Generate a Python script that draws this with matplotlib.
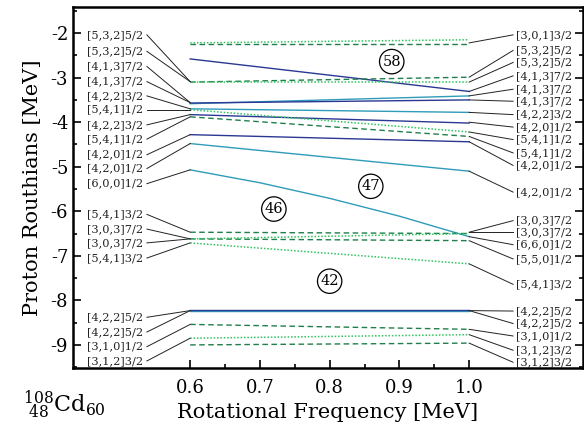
import matplotlib
matplotlib.use("Agg")
import matplotlib.pyplot as plt
from matplotlib.ticker import FixedLocator

plt.rcParams['font.family'] = ['DejaVu Serif']
plt.rcParams['mathtext.fontset'] = 'dejavuserif'
plt.rcParams['axes.unicode_minus'] = False

# ---------------- data ----------------
omega = [0.6, 1.0]
omega5 = [0.6, 0.7, 0.8, 0.9, 1.0]

teal_lines = [[-3.585, -3.41], [-3.70, -3.78], [-4.48, -5.10], [-8.23, -8.23]]
teal_curve = [-5.07, -5.36, -5.71, -6.11, -6.57]
blue_lines = [[-2.58, -3.31], [-3.57, -3.50], [-3.83, -4.02], [-4.28, -4.44], [-8.22, -8.22]]
dashed_lines = [[-2.24, -2.24], [-3.10, -2.99], [-3.88, -4.32], [-6.47, -6.50],
                [-6.62, -6.66], [-8.54, -8.65], [-9.00, -8.96]]
dotted_lines = [[-2.22, -2.15], [-3.10, -3.10], [-3.72, -4.22], [-6.62, -6.50],
                [-6.71, -7.18], [-8.85, -8.77]]

left_labels = ["[5,3,2]5/2", "[5,3,2]5/2", "[4,1,3]7/2", "[4,1,3]7/2", "[4,2,2]3/2",
               "[5,4,1]1/2", "[4,2,2]3/2", "[5,4,1]1/2", "[4,2,0]1/2", "[4,2,0]1/2",
               "[6,0,0]1/2", "[5,4,1]3/2", "[3,0,3]7/2", "[3,0,3]7/2", "[5,4,1]3/2",
               "[4,2,2]5/2", "[4,2,2]5/2", "[3,1,0]1/2", "[3,1,2]3/2"]
left_text_y = [-2.04, -2.41, -2.75, -3.09, -3.41, -3.72, -4.06, -4.38, -4.73, -5.04,
               -5.38, -6.07, -6.40, -6.71, -7.05, -8.38, -8.71, -9.04, -9.36]
left_target = [-3.09, -3.09, -3.56, -3.56, -3.70, -3.72, -3.83, -3.88, -4.28, -4.48,
               -5.07, -6.47, -6.62, -6.62, -6.71, -8.23, -8.23, -8.54, -8.85]

right_labels = ["[3,0,1]3/2", "[5,3,2]5/2", "[5,3,2]5/2", "[4,1,3]7/2", "[4,1,3]7/2",
                "[4,1,3]7/2", "[4,2,2]3/2", "[4,2,0]1/2", "[5,4,1]1/2", "[5,4,1]1/2",
                "[4,2,0]1/2", "[4,2,0]1/2", "[3,0,3]7/2", "[3,0,3]7/2", "[6,6,0]1/2",
                "[5,5,0]1/2", "[5,4,1]3/2", "[4,2,2]5/2", "[4,2,2]5/2", "[3,1,0]1/2",
                "[3,1,2]3/2", "[3,1,2]3/2"]
right_text_y = [-2.04, -2.39, -2.66, -2.96, -3.26, -3.53, -3.83, -4.11, -4.39, -4.69,
                -4.97, -5.57, -6.21, -6.47, -6.75, -7.07, -7.64, -8.24, -8.52, -8.80,
                -9.12, -9.39]
right_target = [-2.22, -2.99, -3.10, -3.31, -3.41, -3.50, -3.78, -4.00, -4.22, -4.32,
                -4.44, -5.10, -6.47, -6.47, -6.57, -6.66, -7.18, -8.23, -8.23, -8.65,
                -8.77, -8.96]

band_numbers = ["58", "47", "46", "42"]
band_x = [0.889, 0.859, 0.72, 0.80]
band_y = [-2.64, -5.44, -5.95, -7.57]

x_major = [0.6, 0.7, 0.8, 0.9, 1.0]
x_minor = [0.65, 0.75, 0.85, 0.95]

# ---------------- styles ----------------
TEAL = "#2f9cba"
BLUE = "#2a3894"
DGREEN = "#1f7f4a"
LGREEN = "#2fc45e"

fig = plt.figure(figsize=(5.84, 4.26), dpi=100)
ax = fig.add_axes([0.125, 0.136, 0.873, 0.848])

for ys in teal_lines:
    ax.plot(omega, ys, color=TEAL, lw=1.0)
ax.plot(omega5, teal_curve, color=TEAL, lw=1.0)
for ys in blue_lines:
    ax.plot(omega, ys, color=BLUE, lw=1.0)
for ys in dashed_lines:
    ax.plot(omega, ys, color=DGREEN, lw=1.0, ls=(0, (4, 2.5)))
for ys in dotted_lines:
    ax.plot(omega, ys, color=LGREEN, lw=1.1, ls=(0, (1, 1.2)))

lab_fs = 8.2
xl_text, xl_line = 0.533, 0.538
xr_line, xr_text = 1.063, 1.067
for s, ty, tg in zip(left_labels, left_text_y, left_target):
    ax.plot([xl_line, 0.6], [ty, tg], color="#222222", lw=0.7)
    ax.text(xl_text, ty, s, ha="right", va="center", fontsize=lab_fs, color="#222222")
for s, ty, tg in zip(right_labels, right_text_y, right_target):
    ax.plot([1.0, xr_line], [tg, ty], color="#222222", lw=0.7)
    ax.text(xr_text, ty, s, ha="left", va="center", fontsize=lab_fs, color="#222222")

for s, bx, by in zip(band_numbers, band_x, band_y):
    ax.text(bx, by, s, ha="center", va="center", fontsize=10.5,
            bbox=dict(boxstyle="circle,pad=0.2", fc="white", ec="black", lw=0.9))

ax.set_xlim(0.432, 1.163)
ax.set_ylim(-9.52, -1.41)
ax.set_xticks(x_major)
ax.set_xticklabels([f"{v:.1f}" for v in x_major])
ax.xaxis.set_minor_locator(FixedLocator(x_minor))
ax.set_yticks([-2, -3, -4, -5, -6, -7, -8, -9])
ax.yaxis.set_minor_locator(FixedLocator([-1.5, -2.5, -3.5, -4.5, -5.5, -6.5, -7.5, -8.5, -9.5]))
ax.tick_params(which="both", direction="in", top=False, right=True, labelsize=13, width=1.2)
ax.tick_params(which="major", length=6)
ax.tick_params(which="minor", length=3)
ax.tick_params(axis="x", pad=8)
for sp in ax.spines.values():
    sp.set_linewidth(1.8)

ax.set_xlabel("Rotational Frequency [MeV]", fontsize=15, labelpad=4)
ax.set_ylabel("Proton Routhians [MeV]", fontsize=15, labelpad=6)

fig.text(0.04, 0.05, r"$^{108}_{\ 48}$Cd$_{60}$", fontsize=16, ha="left", va="center")

fig.savefig("out.png", dpi=100)
